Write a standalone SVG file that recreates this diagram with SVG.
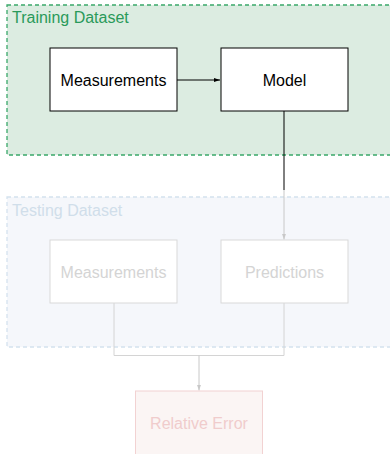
<svg xmlns="http://www.w3.org/2000/svg" width="390" height="454" viewBox="0 0 390 454">
<defs>
<style>
text{font-family:"Liberation Sans",Arial,sans-serif;font-size:16px}
.node{fill:#fff;stroke:#000;stroke-width:1}
.faint{fill:#fff;stroke:#d9d9d9;stroke-width:1}
.ftxt{fill:#d4d4d4;text-anchor:middle}
.ntxt{fill:#000;text-anchor:middle}
</style>
<marker id="ah" viewBox="0 0 10 10" refX="10" refY="5" markerWidth="6" markerHeight="6" orient="auto"><path d="M0,1.5L10,5L0,8.5z" fill="#000"/></marker>
<marker id="ahg" viewBox="0 0 10 10" refX="10" refY="5" markerWidth="6" markerHeight="6" orient="auto"><path d="M0,1.5L10,5L0,8.5z" fill="#c8c8c8"/></marker>
</defs>
<g id="training">
<rect x="7" y="5" width="390" height="150" fill="#dcece1" stroke="#3aa86a" stroke-dasharray="4,3" stroke-width="1.3"/>
<text x="12" y="23" fill="#2a9a5a">Training Dataset</text>
</g>
<g id="testing">
<rect x="7" y="197" width="390" height="150" fill="#f5f7fb" stroke="#d4e2ee" stroke-dasharray="4,3" stroke-width="1.3"/>
<text x="12" y="216" fill="#d0deea">Testing Dataset</text>
</g>
<g id="connectors">
<line x1="177" y1="80" x2="220" y2="80" stroke="#000" marker-end="url(#ah)"/>
<line x1="284" y1="111" x2="284" y2="190" stroke="#000"/>
<line x1="284" y1="190" x2="284" y2="239.5" stroke="#c8c8c8" marker-end="url(#ahg)"/>
<polyline points="114,303 114,355.5 284,355.5 284,303" fill="none" stroke="#d4d4d4"/>
<line x1="199" y1="355.5" x2="199" y2="390.5" stroke="#c8c8c8" marker-end="url(#ahg)"/>
</g>
<g id="train-measurements">
<rect class="node" x="50" y="48" width="127" height="63"/>
<text class="ntxt" x="113.5" y="85.5">Measurements</text>
</g>
<g id="model">
<rect class="node" x="221" y="48" width="127" height="63"/>
<text class="ntxt" x="284.5" y="85.5">Model</text>
</g>
<g id="test-measurements">
<rect class="faint" x="50" y="240" width="127" height="63"/>
<text class="ftxt" x="113.5" y="278">Measurements</text>
</g>
<g id="predictions">
<rect class="faint" x="221" y="240" width="127" height="63"/>
<text class="ftxt" x="284.5" y="278">Predictions</text>
</g>
<g id="relative-error">
<rect x="135.5" y="391" width="127" height="70" fill="#fbf5f4" stroke="#f2d2d2"/>
<text x="199" y="429" fill="#f0cccc" text-anchor="middle">Relative Error</text>
</g>
</svg>
